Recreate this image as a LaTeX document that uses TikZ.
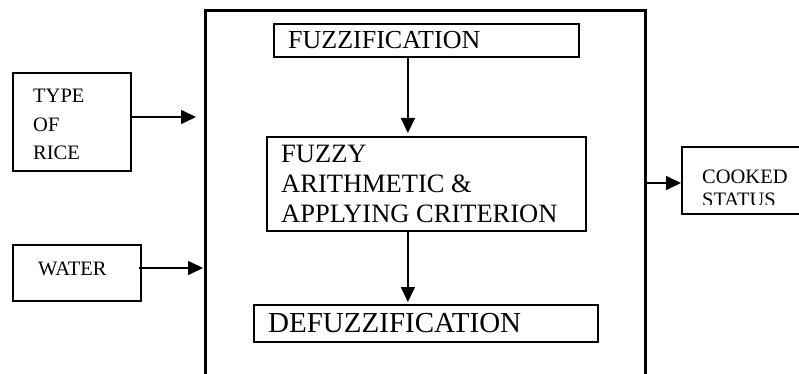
\documentclass[tikz,border=0pt]{standalone}
\usepackage{fontspec}
\setmainfont{Liberation Serif}
\usetikzlibrary{arrows.meta}
\begin{document}
\begin{tikzpicture}[x=1pt,y=-1pt,
  box/.style={draw,line width=1.8pt,inner sep=0pt,anchor=north west},
  lbl/.style={inner sep=0pt,anchor=base west,align=left},
  small/.style={font=\fontsize{20.5}{28}\selectfont},
  mid/.style={font=\fontsize{26.5}{30}\selectfont},
  flow/.style={line width=1.6pt,-{Triangle[length=15pt,width=14pt]}}]
\useasboundingbox (0,0) rectangle (799,374);
\clip (0,0) rectangle (799,374);

% controller frame, open at the bottom edge
\node[box,line width=2.6pt,minimum width=440pt,minimum height=400pt] (sys) at (204,9) {};

% inputs (multi-line labels are placed by the baseline of their last line)
\node[box,minimum width=118pt,minimum height=98pt] (rice) at (12,72) {};
\node[lbl,small] (ricetxt) at (33,159) {TYPE\\OF\\RICE};
\node[box,minimum width=128pt,minimum height=56pt] (water) at (12,244) {};
\node[lbl,small] (watertxt) at (38,275) {WATER};

% inner stages
\node[box,minimum width=305pt,minimum height=33pt] (fuzz) at (273,23) {};
\node[lbl,font=\fontsize{26}{30}\selectfont] (fuzztxt) at (288,49) {FUZZIFICATION};
\node[box,minimum width=319pt,minimum height=94pt] (arith) at (266,136) {};
\node[lbl,mid] (arithtxt) at (281,222) {FUZZY\\ARITHMETIC \&\\APPLYING CRITERION};
\node[box,minimum width=344pt,minimum height=37pt] (defuzz) at (253,304) {};
\node[lbl,font=\fontsize{29}{32}\selectfont] (defuzztxt) at (268,332) {DEFUZZIFICATION};

% output
\node[box,minimum width=130pt,minimum height=67pt] (out) at (681,146) {};
\begin{scope}
  \clip (681,146) rectangle (799,204);
  \node[lbl,font=\fontsize{20.5}{23}\selectfont] (outtxt) at (702,206) {COOKED\\STATUS};
\end{scope}

% connectors
\draw[flow] (rice.east |- 0,117) -- ([xshift=-8pt]sys.west |- 0,117);
\draw[flow] ([xshift=-3pt]water.east |- 0,268) -- ([xshift=-1pt]sys.west |- 0,268);
\draw[flow] ([xshift=-18.5pt]fuzz.south) -- ([xshift=-18.5pt,yshift=3pt]arith.north);
\draw[flow] ([xshift=-18.5pt]arith.south) -- ([xshift=-18.5pt,yshift=2pt]arith.south |- defuzz.north);
\draw[flow] (sys.east |- 0,183) -- (out.west |- 0,183);
\end{tikzpicture}
\end{document}
